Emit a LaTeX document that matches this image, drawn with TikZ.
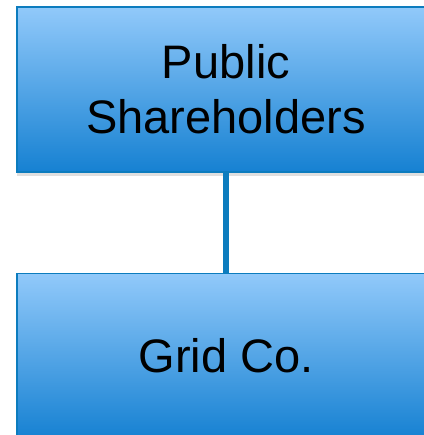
\documentclass[tikz,border=0pt]{standalone}
\usepackage{fontspec}
\setmainfont{Liberation Sans}
\usetikzlibrary{positioning,shadows}

\definecolor{boxtop}{RGB}{145,201,250}
\definecolor{boxbot}{RGB}{22,129,210}
\definecolor{boxline}{RGB}{12,124,190}

\tikzset{
	orgbox/.style={draw=boxline, line width=1.5pt, top color=boxtop, bottom color=boxbot,
		minimum width=418pt, minimum height=165pt, align=center, inner sep=0pt,
		font=\fontsize{47}{55}\selectfont,
		drop shadow={shadow xshift=0pt, shadow yshift=-4pt, opacity=0.25}},
	link/.style={draw=boxline, line width=6pt}
}

\begin{document}
\begin{tikzpicture}
	\useasboundingbox (0,0) rectangle (423pt,-435pt);
	\node[orgbox] (share) at (226pt,-89.5pt) {Public\\Shareholders};
	\node[orgbox, below=100pt of share] (grid) {Grid Co.};
	\draw[link] (share.south) -- (grid.north);
\end{tikzpicture}
\end{document}
